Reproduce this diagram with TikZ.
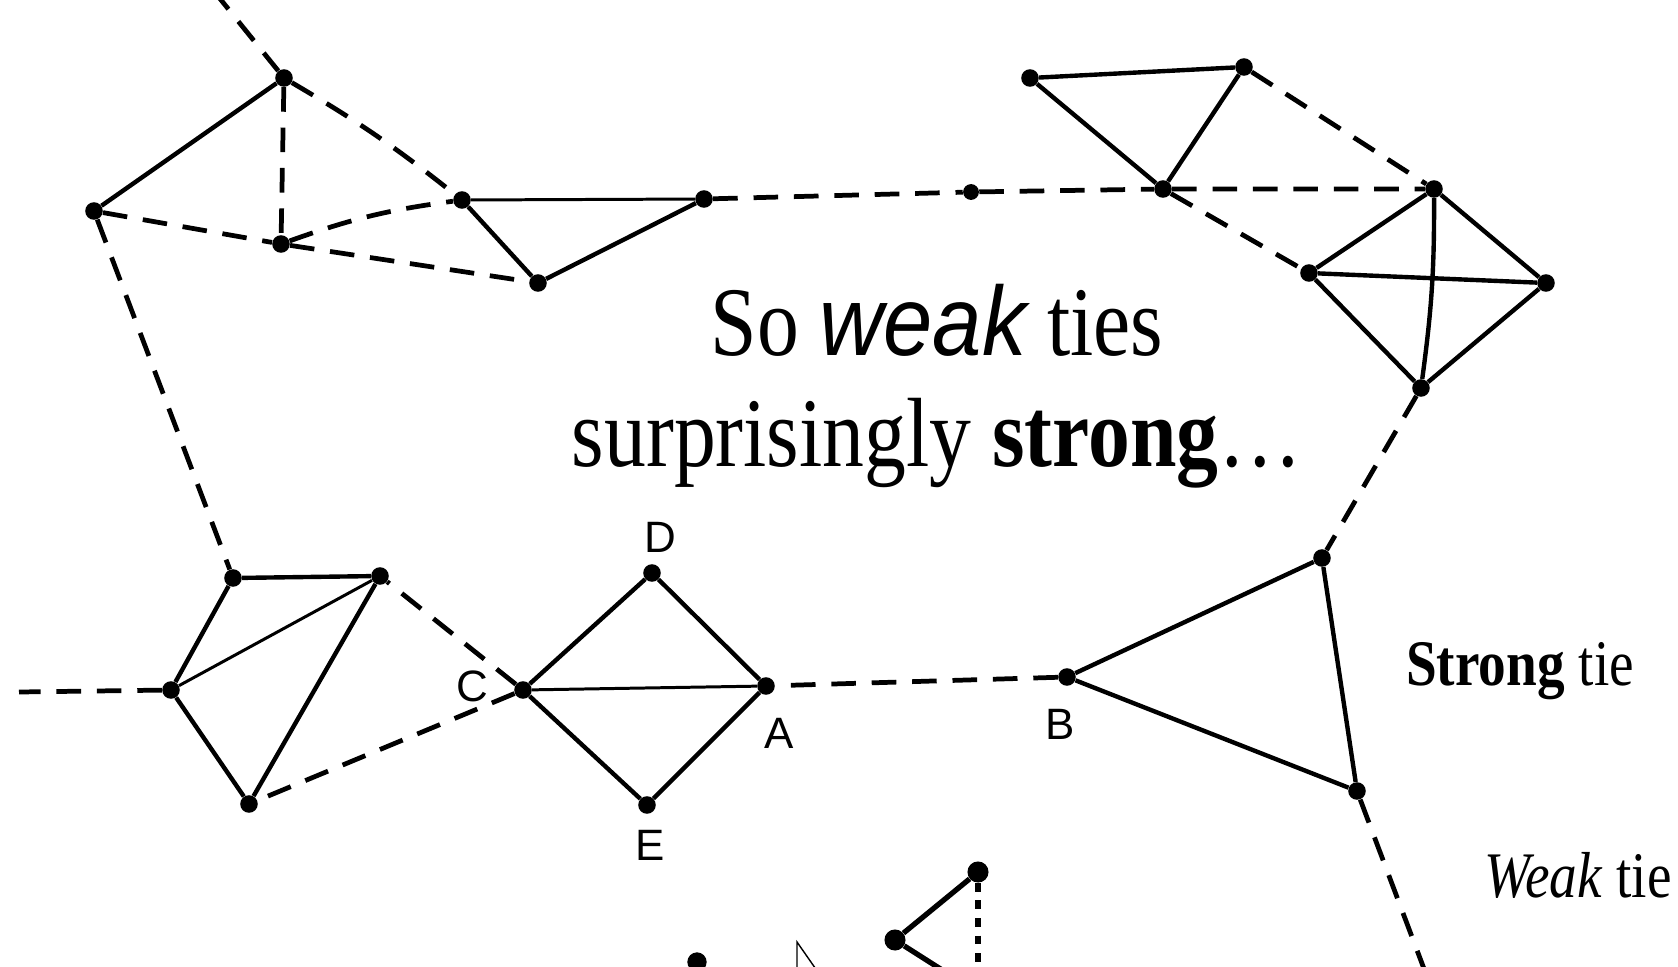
\documentclass[tikz,border=0pt]{standalone}
\usepackage{fontspec}
\setmainfont{Liberation Serif}
\newfontfamily\titlefont[FakeStretch=0.85]{Liberation Serif}
\newfontfamily\titlesans[FakeStretch=0.9]{Liberation Sans}
\newfontfamily\labelfont{Liberation Sans}
\begin{document}
\begin{tikzpicture}[x=0.02cm,y=-0.02cm,
  person/.style={circle,fill,inner sep=0pt,minimum size=10pt},
  strong/.style={line width=2.5pt},
  slim/.style={line width=1.7pt},
  weak/.style={line width=2.7pt,dash pattern=on 14pt off 9pt},
  lbl/.style={font=\labelfont\fontsize{25}{25}\selectfont}]
\useasboundingbox (0,0) rectangle (1678,967);
\clip (0,0) rectangle (1678,967);

% upper left group
\node[person] (p1) at (284,78) {};
\node[person] (p2) at (94,211) {};
\node[person] (p3) at (281,244) {};
\node[person] (p4) at (462,200) {};
\node[person] (p5) at (538,283) {};
\node[person] (p6) at (704,199) {};
\node[person,minimum size=9pt] (p7) at (971,192) {};
\coordinate (outnw) at (213,-10);

% upper right groups
\node[person] (p8) at (1163,189) {};
\node[person] (p9) at (1030,78) {};
\node[person] (p10) at (1244,67) {};
\node[person] (p11) at (1434,189) {};
\node[person] (p12) at (1309,273) {};
\node[person] (p13) at (1546,283) {};
\node[person] (p14) at (1421,388) {};
\node[person] (p15) at (1322,558) {};
\node[person] (pB) at (1067,677) {};
\node[person] (p17) at (1357,791) {};
\coordinate (outs) at (1432,990);

% lower left groups
\node[person] (pA) at (766,686) {};
\node[person] (pD) at (652,573) {};
\node[person] (pE) at (647,805) {};
\node[person] (pC) at (523,690) {};
\node[person] (p21) at (233,578) {};
\node[person] (p22) at (380,576) {};
\node[person] (p23) at (171,690) {};
\node[person] (p24) at (249,804) {};
\coordinate (outw) at (19,692);

\node[lbl] at (660,537) {D};
\node[lbl] at (472,686) {C};
\node[lbl] at (779,733) {A};
\node[lbl] at (650,845) {E};
\node[lbl] at (1060,724) {B};

% strong ties
\draw[strong] (p1) -- (p2);
\draw[strong] (p4) -- (p5) -- (p6);
\draw[slim] (p4) -- (p6);
\draw[strong] (p8) -- (p9) -- (p10) -- (p8);
\draw[strong] (p11) -- (p12) -- (p14) -- (p13) -- (p11);
\draw[strong] (p12) -- (p13);
\draw[strong] (p11) to[bend left=4] (p14);
\draw[strong] (p15) -- (pB) -- (p17) -- (p15);
\draw[strong] (pC) -- (pD) -- (pA) -- (pE) -- (pC);
\draw[slim] (pC) -- (pA);
\draw[strong] (p21) -- (p22) -- (p24) -- (p23) -- (p21);
\draw[slim] (p22) -- (p23);

% weak ties
\draw[weak] (outnw) -- (p1);
\draw[weak] (p1) -- (p3);
\draw[weak] (p1) to[bend left=4] (p4);
\draw[weak] (p2) -- (p3) -- (p5);
\draw[weak] (p3) to[bend left=6] (p4);
\draw[weak] (p2) -- (p21);
\draw[weak] (p6) -- (p7) -- (p8) -- (p11);
\draw[weak] (p10) -- (p11);
\draw[weak] (p8) -- (p12);
\draw[weak] (p14) -- (p15);
\draw[weak] (p17) -- (outs);
\draw[weak] (pB) -- (pA);
\draw[weak] (pC) -- (p22);
\draw[weak] (pC) -- (p24);
\draw[weak] (p23) -- (outw);

% title
\node[font=\titlefont\fontsize{56}{63}\selectfont,align=center] (title) at (937,386)
  {So {\titlesans\itshape weak} ties\\surprisingly \textbf{strong}\dots};

% legend
\node[anchor=base west,font=\titlefont\fontsize{37}{37}\selectfont] (kstrong) at (1400,685) {\textbf{Strong} tie};
\node[anchor=base west,font=\titlefont\fontsize{37}{37}\selectfont] (kweak) at (1478,897) {\textit{Weak} tie};

% bottom, cut off
\node[person,minimum size=11pt] (ldot) at (697,962) {};
\draw[line width=0.8pt] (797,975) -- (797,942) -- (820,975);
\node[person,minimum size=12pt] (lx) at (895,940) {};
\node[person,minimum size=12pt] (ly) at (978,872) {};
\coordinate (lz) at (950,975);
\coordinate (lyb) at (978,980);
\draw[line width=3pt] (lx) -- (ly);
\draw[line width=3pt] (lx) -- (lz);
\draw[line width=3.4pt,dash pattern=on 5pt off 5pt] (ly) -- (lyb);
\end{tikzpicture}
\end{document}
